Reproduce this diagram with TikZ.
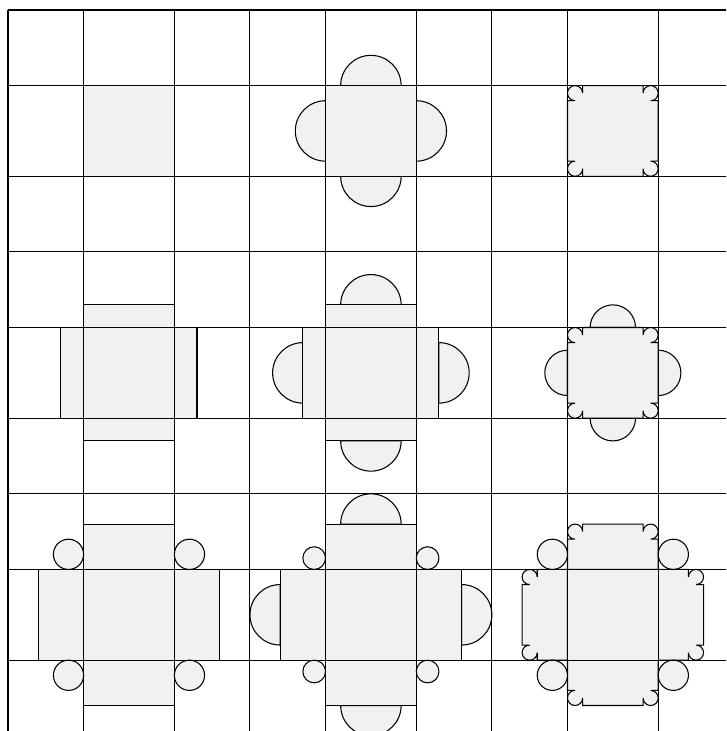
\documentclass[tikz,border=0pt]{standalone}
\usepackage{tikz}
\definecolor{tilegray}{HTML}{F1F1F1}
\tikzset{
  piece/.style={fill=tilegray,draw=black,line width=0.4pt},
  gridline/.style={draw=black,line width=0.4pt},
  plainsq/.pic={\path[piece] (-0.6,-0.6) rectangle (0.6,0.6);},
  knobsq/.pic={\path[piece] (-0.6,0.4) -- (-0.5,0.4) arc[start angle=270,end angle=0,radius=0.1]
    -- (-0.4,0.6) -- (0.4,0.6) -- (0.4,0.5) arc[start angle=180,end angle=-90,radius=0.1]
    -- (0.6,0.4) -- (0.6,-0.4) -- (0.5,-0.4) arc[start angle=90,end angle=-180,radius=0.1]
    -- (0.4,-0.6) -- (-0.4,-0.6) -- (-0.4,-0.5) arc[start angle=0,end angle=-270,radius=0.1]
    -- (-0.6,-0.4) -- cycle;},
  knobrect/.pic={\path[piece] (-0.6,0.6) -- (-0.6,1.0) -- (-0.5,1.0) arc[start angle=270,end angle=0,radius=0.1]
    -- (-0.4,1.2) -- (0.4,1.2) -- (0.4,1.1) arc[start angle=180,end angle=-90,radius=0.1]
    -- (0.6,1.0) -- (0.6,0.6) -- cycle;},
}
\begin{document}
\begin{tikzpicture}
  \useasboundingbox (-0.106,-9.537) rectangle (9.497,0.132);
  \clip (-0.106,-9.537) rectangle (9.497,0.132);
  % row 1
  \begin{scope}[shift={(1.6,-1.6)}]
    \pic {plainsq};
  \end{scope}
  \begin{scope}[shift={(4.8,-1.6)}]
    \foreach \a in {0,90,180,270}
      \path[piece,rotate=\a] (-0.4,0.6) arc[start angle=180,end angle=0,radius=0.4] -- cycle;
    \pic {plainsq};
  \end{scope}
  \begin{scope}[shift={(8.0,-1.6)}]
    \pic {knobsq};
  \end{scope}
  % row 2
  \begin{scope}[shift={(1.6,-4.8)}]
    \foreach \a in {0,90,180,270}
      \path[piece,rotate=\a] (-0.6,0.6) rectangle (0.6,0.9);
    \pic {plainsq};
  \end{scope}
  \begin{scope}[shift={(4.8,-4.8)}]
    \foreach \a in {0,90,180,270} {
      \path[piece,rotate=\a] (-0.4,0.9) arc[start angle=180,end angle=0,radius=0.4] -- cycle;
      \path[piece,rotate=\a] (-0.6,0.6) rectangle (0.6,0.9);
    }
    \pic {plainsq};
  \end{scope}
  \begin{scope}[shift={(8.0,-4.8)}]
    \foreach \a in {0,90,180,270}
      \path[piece,rotate=\a] (-0.3,0.6) arc[start angle=180,end angle=0,radius=0.3] -- cycle;
    \pic {knobsq};
  \end{scope}
  % row 3
  \begin{scope}[shift={(1.6,-8.0)}]
    \foreach \a in {0,90,180,270} {
      \path[piece,rotate=\a] (-0.6,0.6) rectangle (0.6,1.2);
      \path[piece,rotate=\a] (0.8,0.8) circle[radius=0.2];
    }
    \pic {plainsq};
  \end{scope}
  \begin{scope}[shift={(4.8,-8.0)}]
    \foreach \a in {0,90,180,270} {
      \path[piece,rotate=\a] (-0.4,1.2) arc[start angle=180,end angle=0,radius=0.4] -- cycle;
      \path[piece,rotate=\a] (-0.6,0.6) rectangle (0.6,1.2);
      \path[piece,rotate=\a] (0.75,0.75) circle[radius=0.15];
    }
    \pic {plainsq};
  \end{scope}
  \begin{scope}[shift={(8.0,-8.0)}]
    \foreach \a in {0,90,180,270} {
      \pic[rotate=\a] {knobrect};
      \path[piece,rotate=\a] (0.8,0.8) circle[radius=0.2];
    }
    \pic {plainsq};
  \end{scope}
  % grid
  \foreach \p in {0,1,2.2,3.2,4.2,5.4,6.4,7.4,8.6} {
    \draw[gridline] (\p,0) -- (\p,-9.6);
    \draw[gridline] (0,-\p) -- (9.6,-\p);
  }
\end{tikzpicture}
\end{document}
